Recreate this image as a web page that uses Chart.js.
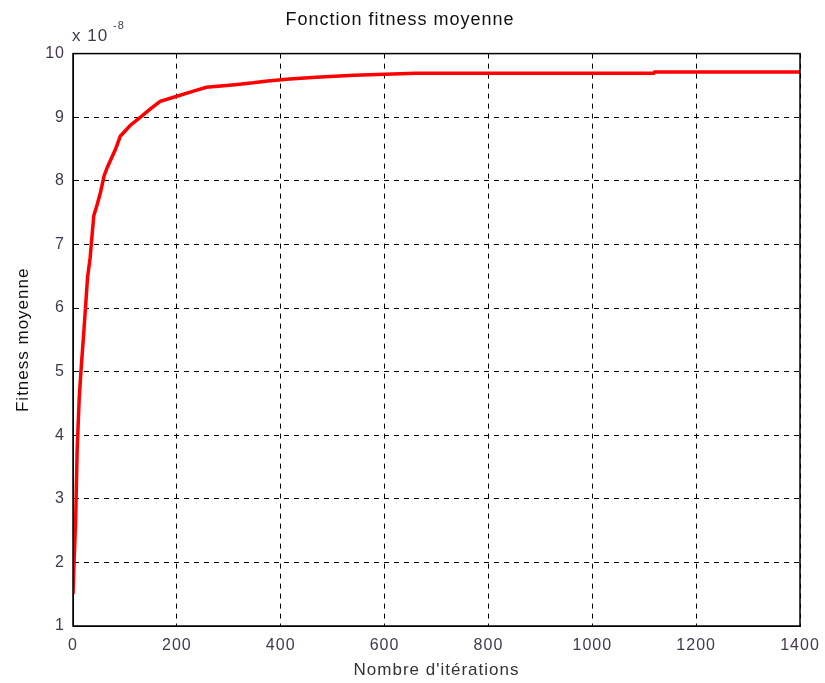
<!DOCTYPE html>
<html lang="fr">
<head>
<meta charset="UTF-8">
<title>Fonction fitness moyenne</title>
<script src="https://cdn.jsdelivr.net/npm/chart.js"></script>
<style>
  html, body { margin: 0; padding: 0; background: #fff; }
  #wrap { width: 825px; height: 683px; }
</style>
</head>
<body>
<div id="wrap"><canvas id="myChart" width="825" height="683"></canvas></div>
<script>
// valeurs (fitness en unités de 1e-8)
const iterations = [0, 2, 5, 8, 12, 16, 20, 24, 28, 33, 36, 40, 47, 53, 60, 66, 72, 82, 91, 110, 130, 149, 168, 200, 232, 257, 312, 347, 375, 417, 468, 541, 660, 1118, 1120, 1400];
const fitnessE8 = [1.5, 2.0, 2.64, 3.77, 4.59, 5.09, 5.53, 6.0, 6.48, 6.79, 7.08, 7.45, 7.64, 7.82, 8.08, 8.21, 8.32, 8.5, 8.7, 8.87, 9.0, 9.13, 9.25, 9.33, 9.41, 9.47, 9.51, 9.54, 9.57, 9.60, 9.63, 9.66, 9.69, 9.69, 9.71, 9.71];
const xTicks = [0, 200, 400, 600, 800, 1000, 1200, 1400];
const yTicks = [1, 2, 3, 4, 5, 6, 7, 8, 9, 10];

const font = "'Liberation Sans', Arial, sans-serif";
const tickColor = '#403a50';

// espacement des lettres un peu large, comme la figure matlab
const spacingPlugin = {
    id: 'spacing',
    beforeDraw(chart) {
        chart.ctx.letterSpacing = '1px';
    }
};

// cadre noir + "x 10^-8"
const boxPlugin = {
    id: 'box',
    afterDraw(chart) {
        const { ctx, chartArea: a } = chart;
        ctx.save();
        ctx.strokeStyle = '#000';
        ctx.lineWidth = 1.5;
        ctx.setLineDash([]);
        ctx.strokeRect(a.left, a.top, a.right - a.left, a.bottom - a.top);
        ctx.fillStyle = tickColor;
        ctx.font = '17px ' + font;
        ctx.textBaseline = 'alphabetic';
        ctx.fillText('x 10', a.left - 1, a.top - 13);
        ctx.font = '11px ' + font;
        ctx.fillText('-8', a.left + 40, a.top - 25);
        ctx.restore();
    }
};

const ctx = document.getElementById('myChart').getContext('2d');
new Chart(ctx, {
    type: 'line',
    data: {
        datasets: [{
            data: iterations.map((x, i) => ({ x: x, y: fitnessE8[i] })),
            borderColor: '#ff0000',
            borderWidth: 3.5,
            pointRadius: 0,
            tension: 0,
            fill: false
        }]
    },
    options: {
        responsive: false,
        animation: false,
        layout: { padding: { left: 0, right: 25, top: 0, bottom: 2 } },
        plugins: {
            legend: { display: false },
            tooltip: { enabled: false },
            title: {
                display: true,
                text: 'Fonction fitness moyenne',
                color: '#111',
                font: { family: font, size: 18, weight: 'normal' },
                padding: { top: 9, bottom: 23 }
            }
        },
        scales: {
            x: {
                type: 'linear',
                min: 0,
                max: 1400,
                afterBuildTicks: s => { s.ticks = xTicks.map(v => ({ value: v })); },
                afterFit: s => { s.height = 55; s.paddingLeft = 0; s.paddingRight = 0; },
                grid: {
                    color: '#000',
                    lineWidth: 1,
                    drawTicks: false
                },
                border: { display: true, color: '#000', dash: [5, 5] },
                ticks: {
                    color: tickColor,
                    padding: 10,
                    maxRotation: 0,
                    font: { family: font, size: 16 },
                    callback: v => String(v)
                },
                title: {
                    display: true,
                    text: "Nombre d'itérations",
                    color: '#333',
                    padding: { top: 1, bottom: 0 },
                    font: { family: font, size: 17 }
                }
            },
            y: {
                min: 1,
                max: 10,
                afterBuildTicks: s => { s.ticks = yTicks.map(v => ({ value: v })); },
                afterFit: s => { s.width = 73; },
                grid: {
                    color: '#000',
                    lineWidth: 1,
                    drawTicks: false
                },
                border: { display: true, color: '#000', dash: [5, 5] },
                ticks: {
                    color: tickColor,
                    padding: 8,
                    font: { family: font, size: 16 },
                    callback: v => String(v)
                },
                title: {
                    display: true,
                    text: 'Fitness moyenne',
                    color: '#111',
                    padding: { top: 13, bottom: 0 },
                    font: { family: font, size: 17 }
                }
            }
        }
    },
    plugins: [spacingPlugin, boxPlugin]
});
</script>
</body>
</html>
